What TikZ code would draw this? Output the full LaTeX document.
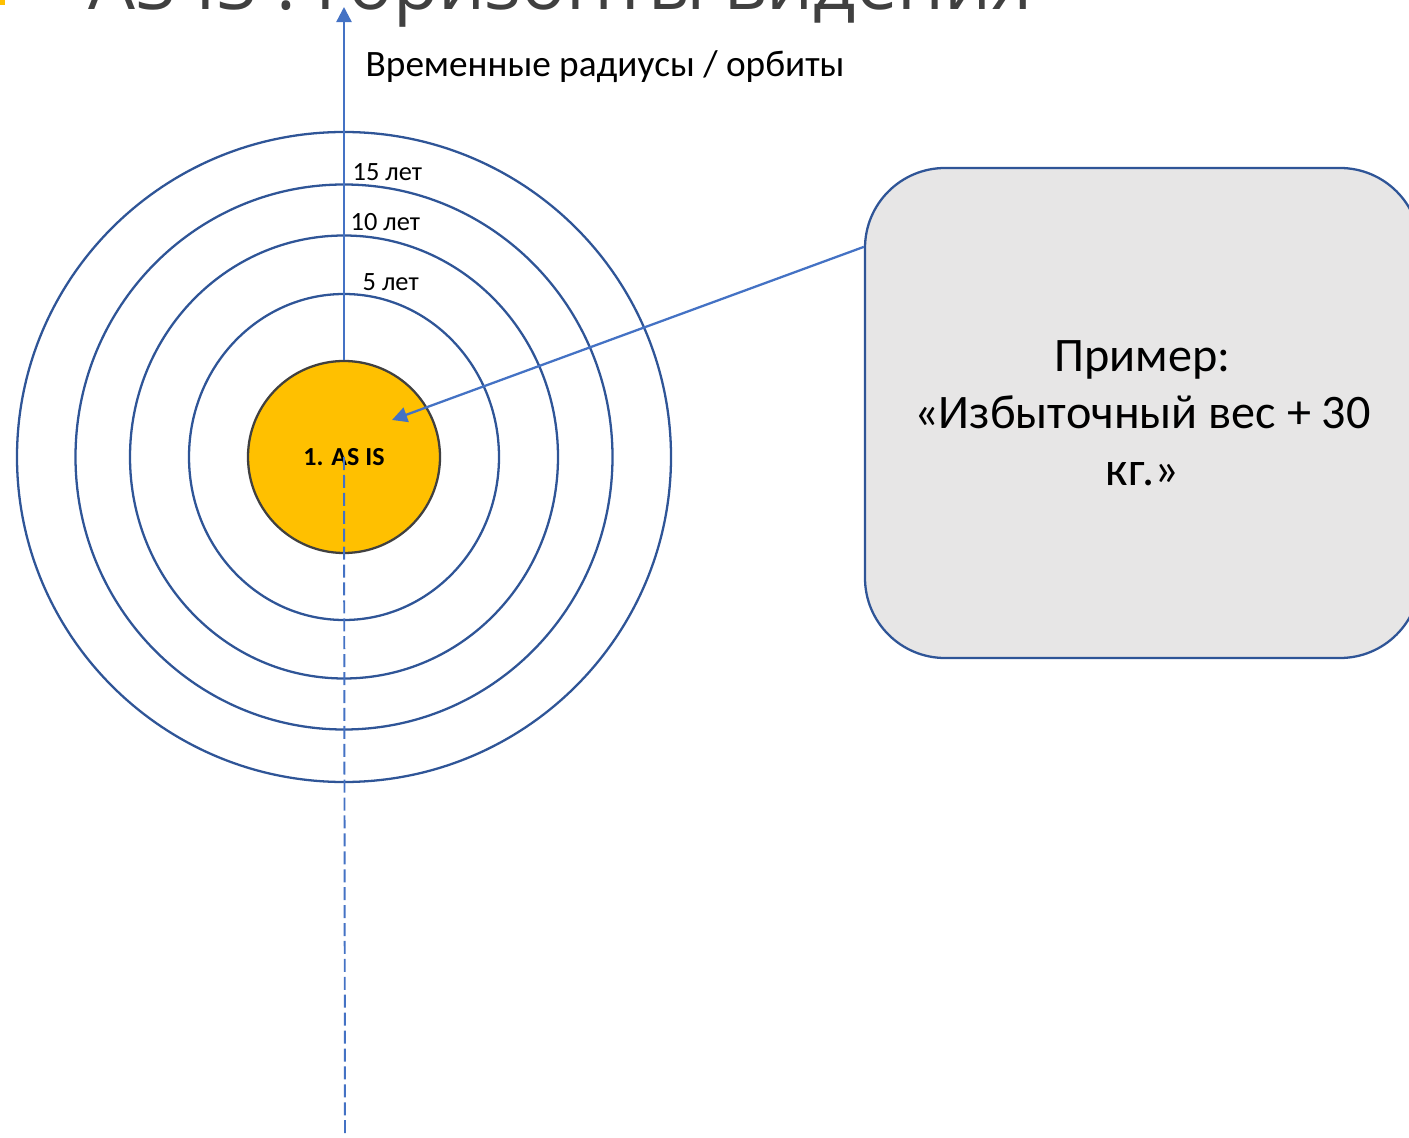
\documentclass[tikz,border=0pt]{standalone}
\usepackage{fontspec}
\setmainfont{Carlito}
\newfontfamily\titlefont{Open Sans}
\usetikzlibrary{arrows.meta,calc}

\definecolor{orbitblue}{HTML}{2F5597}
\definecolor{arrowblue}{HTML}{4472C4}
\definecolor{sunyellow}{HTML}{FFC000}
\definecolor{boxgray}{HTML}{E7E6E6}
\definecolor{titlegray}{HTML}{404040}

\begin{document}
\begin{tikzpicture}[
    orbit/.style={draw=orbitblue,line width=0.65pt},
    radius arrow/.style={draw=arrowblue,line width=0.65pt,-{Triangle[length=4.3pt,width=4.3pt]}},
    years/.style={anchor=west,inner sep=0pt,font=\fontsize{7.5}{9}\selectfont},
  ]
    \useasboundingbox (0,0) rectangle (14.09,-11.38);
    \clip (0,0) rectangle (14.09,-11.38);

    % title, cut by the top edge
    \fill[sunyellow] (-0.05,0.05) rectangle (0.05,-0.05);
    \node[anchor=base west,inner sep=0pt,text=titlegray,font=\titlefont\fontsize{21.1}{25}\selectfont] (title) at (0.88,-0.10) {AS IS : Горизонты видения};

    % orbits
    \foreach \rx/\ry in {1.55/1.63, 2.14/2.215, 2.685/2.725, 3.27/3.25}
      \draw[orbit] (3.44,-4.57) ellipse ({\rx} and {\ry});

    \node[circle,draw=titlegray,fill=sunyellow,line width=0.65pt,minimum size=1.92cm,inner sep=0pt,font=\bfseries\fontsize{7.4}{9}\selectfont] (asis) at (3.44,-4.57) {1. AS IS};

    \coordinate (top) at (3.44,-0.07);
    \coordinate (bottom) at (3.45,-11.45);
    \draw[radius arrow] (asis.north) -- (top);
    \draw[arrowblue,line width=0.55pt,dash pattern=on 3.7pt off 1.4pt] (asis.center) -- (bottom);

    \node[anchor=west,inner sep=0pt,font=\fontsize{10.6}{12.7}\selectfont] (radii) at (3.65,-0.67) {Временные радиусы / орбиты};
    \node[years] (y15) at (3.52,-1.72) {15 лет};
    \node[years] (y10) at (3.50,-2.22) {10 лет};
    \node[years] (y5) at (3.62,-2.82) {5 лет};

    % example box
    \node[draw=orbitblue,fill=boxgray,line width=0.65pt,rounded corners=0.8cm,minimum width=5.55cm,minimum height=4.9cm,align=center,font=\fontsize{13.7}{16.2}\selectfont] (example) at (11.425,-4.13) {Пример:\\«Избыточный вес + 30\\кг.»};
    \coordinate (target) at (3.92,-4.20);
    \draw[radius arrow] ($(example.north west)+(0,-0.8)$) -- (target);
\end{tikzpicture}
\end{document}
